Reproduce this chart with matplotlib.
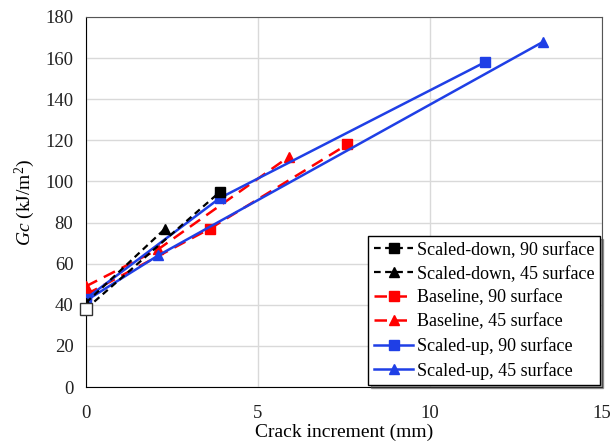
import numpy as np
import matplotlib
matplotlib.use("Agg")
import matplotlib.pyplot as plt

plt.rcParams["font.family"] = ["Liberation Serif", "DejaVu Serif"]
plt.rcParams["mathtext.fontset"] = "custom"
plt.rcParams["mathtext.rm"] = "Liberation Serif"
plt.rcParams["mathtext.it"] = "Liberation Serif:italic"

# crack increment (mm) / Gc (kJ/m^2)
sd90_x = [0, 3.9]
sd90_y = [38, 95]
sd45_x = [0, 2.3]
sd45_y = [41, 77]
base90_x = [0, 3.6, 7.6]
base90_y = [45, 77, 118]
base45_x = [0, 2.1, 5.9]
base45_y = [49, 67, 112]
up90_x = [0, 3.9, 11.6]
up90_y = [43, 92, 158]
up45_x = [0, 2.1, 13.3]
up45_y = [42, 64, 168]

RED = "#ff0000"
BLUE = "#1f3fe6"

fig = plt.figure(figsize=(6.16, 4.47), dpi=100)
ax = fig.add_axes([0.1396, 0.1342, 0.8374, 0.8278])

ax.plot(base45_x, base45_y, "--", color=RED, lw=1.8, dashes=(5, 3), marker="^", ms=7,
        label="Baseline, 45 surface", zorder=3)
ax.plot(base90_x, base90_y, "--", color=RED, lw=1.8, dashes=(5, 3), marker="s", ms=6.5,
        label="Baseline, 90 surface", zorder=3)
ax.plot(up90_x, up90_y, "-", color=BLUE, lw=1.8, marker="s", ms=6.5,
        label="Scaled-up, 90 surface", zorder=4)
ax.plot(up45_x, up45_y, "-", color=BLUE, lw=1.8, marker="^", ms=7,
        label="Scaled-up, 45 surface", zorder=4)
ax.plot(sd90_x, sd90_y, "--", color="black", lw=1.6, dashes=(3, 2), marker="s", ms=6.5,
        label="Scaled-down, 90 surface", zorder=5)
ax.plot(sd45_x, sd45_y, "--", color="black", lw=1.6, dashes=(3, 2), marker="^", ms=7,
        label="Scaled-down, 45 surface", zorder=5)
# first scaled-down point drawn open
ax.plot(sd90_x[:1], sd90_y[:1], "s", ms=8, mfc="white", mec="#333333", mew=1, zorder=6,
        clip_on=False)

ax.set_xlim(0, 15)
ax.set_ylim(0, 180)
ax.set_xticks([0, 5, 10, 15])
ax.set_yticks(range(0, 181, 20))
ax.tick_params(length=0, labelsize=13.5, colors="#222222")
ax.tick_params(axis="x", pad=13)
ax.tick_params(axis="y", pad=9)
ax.grid(True, color="#d9d9d9", lw=1)
ax.set_axisbelow(True)
for s in ["top", "right"]:
    ax.spines[s].set_color("#555555")
for s in ["left", "bottom"]:
    ax.spines[s].set_color("black")

ax.set_xlabel("Crack increment (mm)", fontsize=14, labelpad=1)
ax.set_ylabel(r"$\mathit{Gc}$ (kJ/m$^2$)", fontsize=14, labelpad=6)

h, l = ax.get_legend_handles_labels()
order = [4, 5, 1, 0, 2, 3]
leg = ax.legend([h[i] for i in order], [l[i] for i in order], loc="lower right",
                fontsize=13, frameon=True, fancybox=False, shadow=True,
                edgecolor="black", handlelength=2.2, handletextpad=0.2,
                borderpad=0.3, labelspacing=0.38, borderaxespad=0.1)
leg.get_frame().set_linewidth(1)

fig.savefig("out.png", dpi=100)
